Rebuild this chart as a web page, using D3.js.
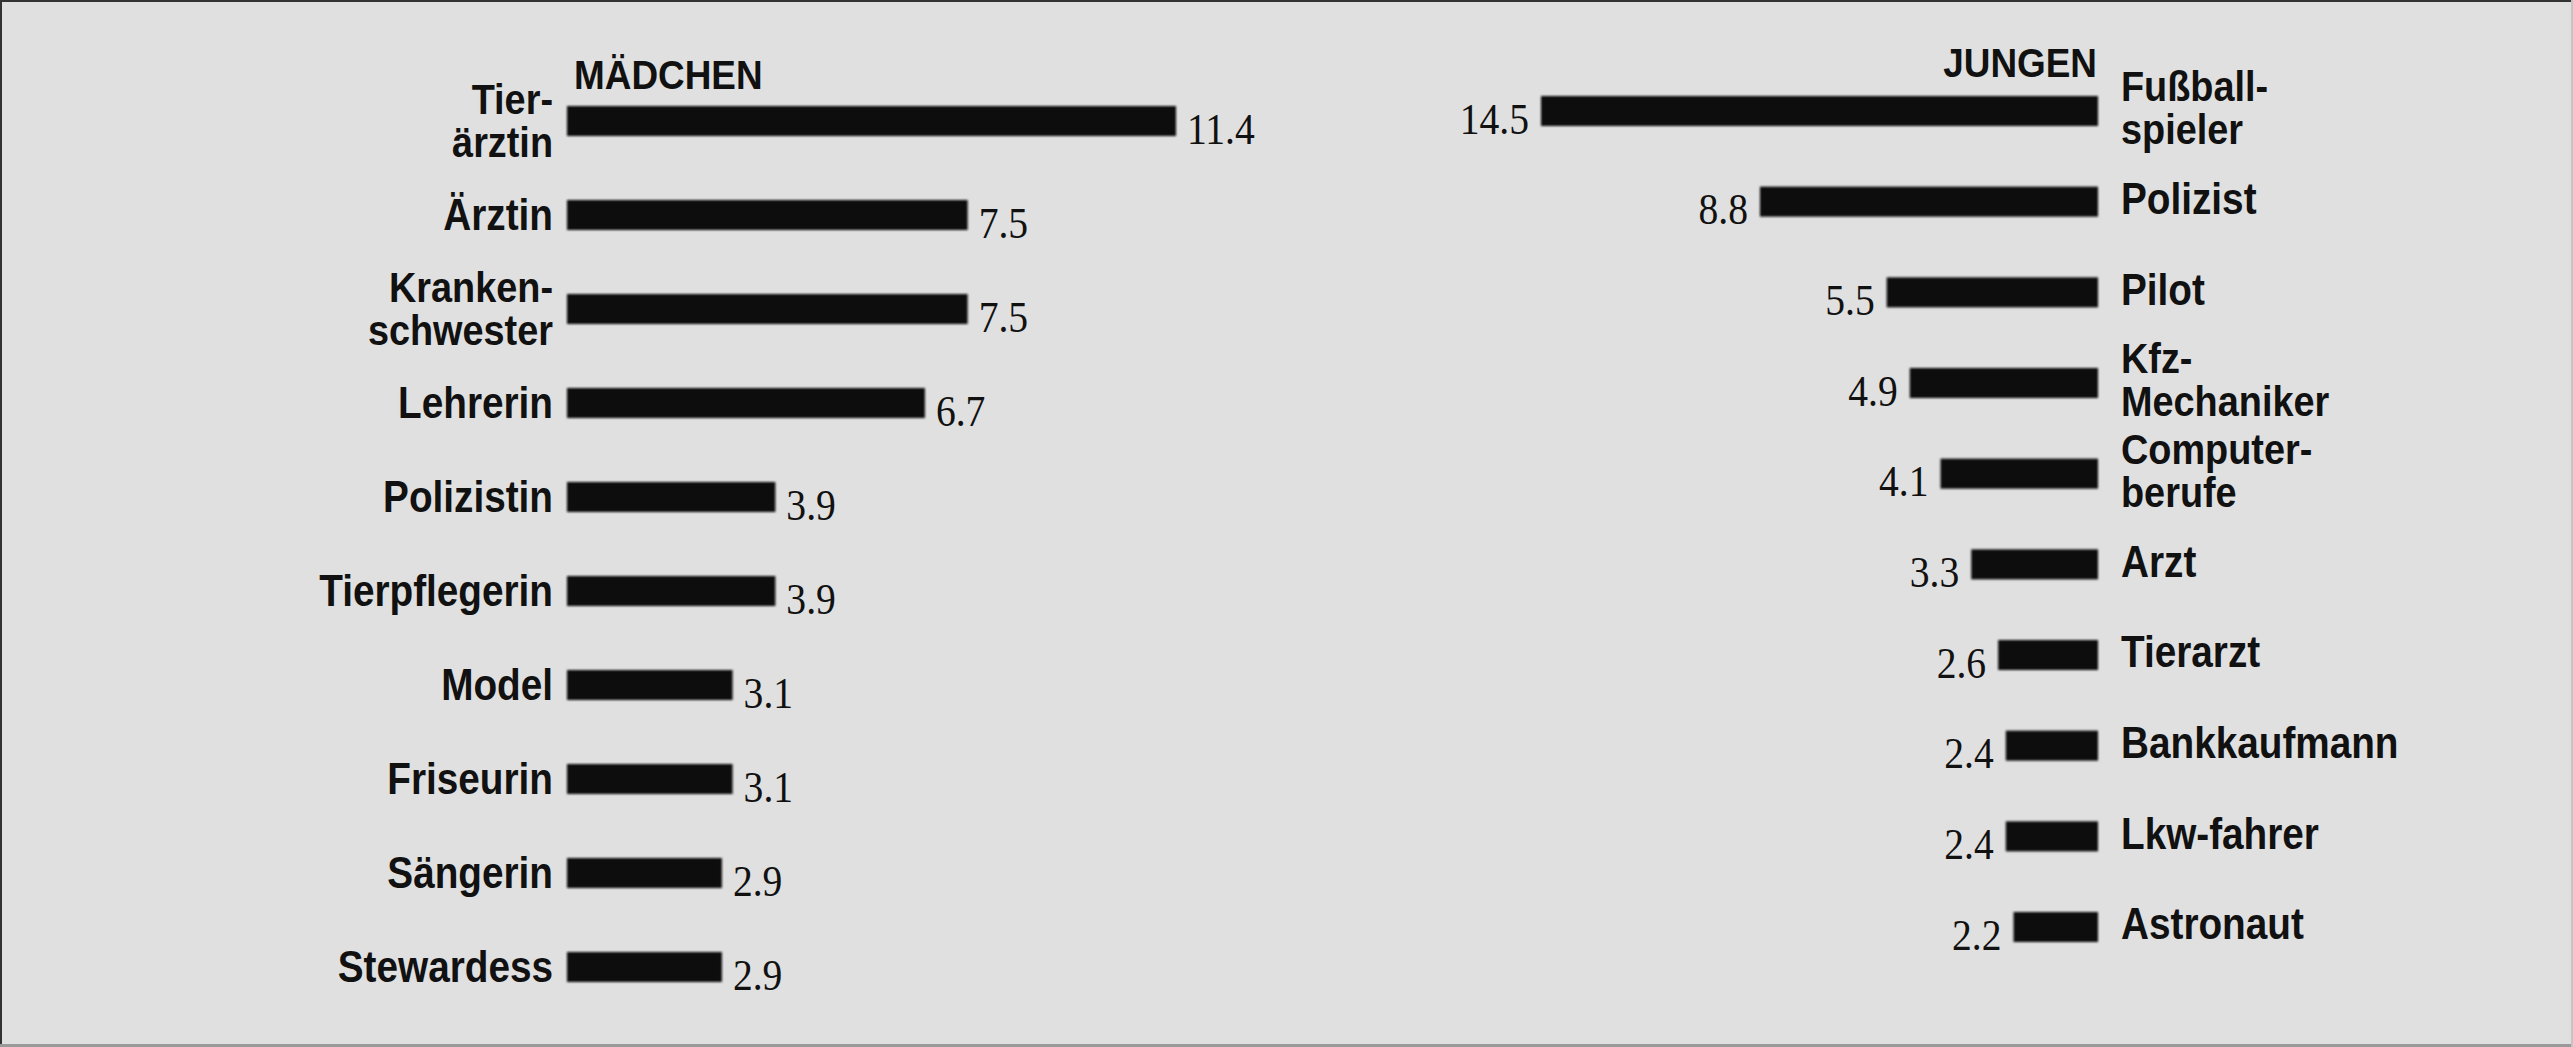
<!DOCTYPE html>
<html><head><meta charset="utf-8">
<script src="https://cdn.jsdelivr.net/npm/d3@7"></script>
<style>
html,body{margin:0;padding:0;background:#e0e0e0;}
svg{display:block;}
</style></head>
<body>
<svg id="chart" width="2573" height="1047"></svg>
<script>
// ---- data ----
const girlsTitle = "MÄDCHEN";
const boysTitle = "JUNGEN";
const girlsCategories = [["Tier-","ärztin"],["Ärztin"],["Kranken-","schwester"],["Lehrerin"],["Polizistin"],["Tierpflegerin"],["Model"],["Friseurin"],["Sängerin"],["Stewardess"]];
const girlsValues = [11.4, 7.5, 7.5, 6.7, 3.9, 3.9, 3.1, 3.1, 2.9, 2.9];
const girlsLabels = ["11.4","7.5","7.5","6.7","3.9","3.9","3.1","3.1","2.9","2.9"];
const boysCategories = [["Fußball-","spieler"],["Polizist"],["Pilot"],["Kfz-","Mechaniker"],["Computer-","berufe"],["Arzt"],["Tierarzt"],["Bankkaufmann"],["Lkw-fahrer"],["Astronaut"]];
const boysValues = [14.5, 8.8, 5.5, 4.9, 4.1, 3.3, 2.6, 2.4, 2.4, 2.2];
const boysLabels = ["14.5","8.8","5.5","4.9","4.1","3.3","2.6","2.4","2.4","2.2"];

const W = 2573, H = 1047;
const svg = d3.select("#chart");
const ink = "#111";

// background + paper edges
svg.append("rect").attr("x",0).attr("y",0).attr("width",W).attr("height",H).attr("fill","#e0e0e0");
svg.append("line").attr("x1",0).attr("x2",W).attr("y1",1).attr("y2",1).attr("stroke","#333").attr("stroke-width",2);
svg.append("line").attr("x1",1).attr("x2",1).attr("y1",0).attr("y2",H).attr("stroke","#333").attr("stroke-width",2);
svg.append("line").attr("x1",0).attr("x2",W).attr("y1",H-1.5).attr("y2",H-1.5).attr("stroke","#9a9a9a").attr("stroke-width",3);
svg.append("line").attr("x1",W-1).attr("x2",W-1).attr("y1",0).attr("y2",H).attr("stroke","#c4c4c4").attr("stroke-width",2);

// soft ink filter
const defs = svg.append("defs");
const f = defs.append("filter").attr("id","ink").attr("x","-5%").attr("y","-30%").attr("width","110%").attr("height","160%");
f.append("feGaussianBlur").attr("in","SourceGraphic").attr("stdDeviation",1.1);

const labelFont = "'Liberation Sans', Arial, sans-serif";
const numFont = "'Liberation Serif', 'Times New Roman', serif";
const LX = 0.88; // horizontal condensation of label type
const NX = 0.9;  // horizontal condensation of numbers

const barH = 30;

// multi-line label as one text element with tspans, condensed by transform
function label(g, x, y, lines, anchor){
  const n = lines.length;
  const t = g.append("text")
    .attr("transform", `translate(${x},${y}) scale(${LX},1)`)
    .attr("text-anchor", anchor)
    .attr("font-family", labelFont).attr("font-weight","bold").attr("font-size",n>1?43:44).attr("fill",ink);
  lines.forEach((ln,j)=>{
    t.append("tspan").attr("x",0)
      .attr("y", (j-(n-1)/2)*43)
      .attr("dominant-baseline","central")
      .text(ln);
  });
}

// ---- girls (left) ----
const gx0 = 567;
const gx = d3.scaleLinear().domain([0, 11.4]).range([gx0, 1176]);
const gy = d3.scalePoint().domain(d3.range(girlsValues.length)).range([121, 967]);
const G = svg.append("g");

G.selectAll("rect.bar").data(girlsValues).join("rect")
  .attr("class","bar")
  .attr("x", gx(0))
  .attr("y", (d,i)=>gy(i)-barH/2)
  .attr("width", d=>gx(d)-gx(0))
  .attr("height", barH)
  .attr("fill", ink).attr("filter","url(#ink)");

G.selectAll("text.val").data(girlsLabels).join("text")
  .attr("class","val")
  .attr("transform", (d,i)=>`translate(${gx(girlsValues[i])+11},${gy(i)+8}) scale(${NX},1)`)
  .attr("dominant-baseline","central")
  .attr("font-family", numFont).attr("font-size",44).attr("fill",ink)
  .text(d=>d);

girlsCategories.forEach((lines,i)=> label(G, gx0-14, gy(i), lines, "end"));

G.append("text").attr("transform",`translate(574,89) scale(0.9,1)`)
  .attr("font-family", labelFont).attr("font-weight","bold").attr("font-size",41).attr("fill",ink)
  .text(girlsTitle);

// ---- boys (right) ----
const bx0 = 2098;
const bx = d3.scaleLinear().domain([0, 14.5]).range([bx0, 1541]);
const by = d3.scalePoint().domain(d3.range(boysValues.length)).range([111, 927]);
const B = svg.append("g");

B.selectAll("rect.bar").data(boysValues).join("rect")
  .attr("class","bar")
  .attr("x", d=>bx(d))
  .attr("y", (d,i)=>by(i)-barH/2)
  .attr("width", d=>bx(0)-bx(d))
  .attr("height", barH)
  .attr("fill", ink).attr("filter","url(#ink)");

B.selectAll("text.val").data(boysLabels).join("text")
  .attr("class","val")
  .attr("transform", (d,i)=>`translate(${bx(boysValues[i])-12},${by(i)+8}) scale(${NX},1)`)
  .attr("text-anchor","end")
  .attr("dominant-baseline","central")
  .attr("font-family", numFont).attr("font-size",44).attr("fill",ink)
  .text(d=>d);

boysCategories.forEach((lines,i)=> label(B, bx0+23, by(i)-3, lines, "start"));

B.append("text").attr("transform",`translate(2097,77) scale(0.9,1)`)
  .attr("text-anchor","end")
  .attr("font-family", labelFont).attr("font-weight","bold").attr("font-size",41).attr("fill",ink)
  .text(boysTitle);
</script>
</body></html>
